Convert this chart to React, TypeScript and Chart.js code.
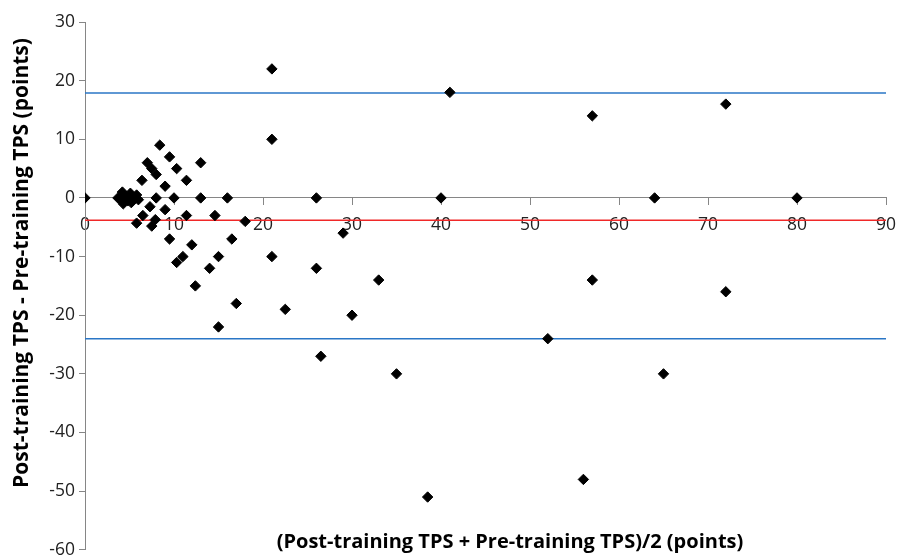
import { useEffect, useRef } from "react";
import { Chart, registerables } from "chart.js";

Chart.register(...registerables);

// Mean of the two measurements (x) and their difference (y)
const meanScores = [
  0, 3.7, 4.0, 4.2, 4.3, 4.6, 4.8, 5.0, 5.1, 5.2, 5.5, 5.8, 6.0,
  8.0, 10.0, 13.0, 16.0, 26.0, 40.0, 64.0, 80.0,
  8.4, 9.5, 10.3, 11.4, 13.0, 9.0, 7.0, 7.5, 8.0, 6.4,
  5.8, 6.5, 7.3, 7.5, 7.9, 9.0, 11.4, 14.6, 18.0, 9.5, 12.0, 16.5, 15.0, 14.0, 10.3, 11.0, 12.4, 17.0, 15.0,
  21.0, 21.0, 41.0, 57.0, 72.0, 29.0, 21.0, 26.0, 33.0, 22.5, 30.0, 26.5, 35.0, 38.5, 56.0, 57.0, 72.0, 52.0, 65.0,
];
const differences = [
  0, 0, -0.3, 1, -1, 0.3, -0.5, 0, 0.8, -0.8, 0, 0.5, -0.3,
  0, 0, 0, 0, 0, 0, 0, 0,
  9, 7, 5, 3, 6, 2, 6, 5, 4, 3,
  -4.3, -3, -1.5, -4.8, -3.7, -2, -3, -3, -4, -7, -8, -7, -10, -12, -11, -10, -15, -18, -22,
  22, 10, 18, 14, 16, -6, -10, -12, -14, -19, -20, -27, -30, -51, -48, -14, -16, -24, -30,
];

const upperLimit = 17.9;
const meanDifference = -3.8;
const lowerLimit = -24;

const xMin = 0;
const xMax = 90;
const yMin = -60;
const yMax = 30;
const tickStep = 10;

const xTitle = "(Post-training TPS + Pre-training TPS)/2 (points)";
const yTitle = "Post-training TPS - Pre-training TPS (points)";

const FONT = '"Open Sans", "DejaVu Sans", sans-serif';
const AXIS_GRAY = "#868686";

const titlesPlugin = {
  id: "axisTitles",
  afterDraw(chart: any) {
    const ctx = chart.ctx as CanvasRenderingContext2D;
    ctx.save();
    ctx.fillStyle = "#000";
    ctx.font = `bold 20px ${FONT}`;
    ctx.textAlign = "center";
    ctx.textBaseline = "middle";
    ctx.fillText(xTitle, 510, 542);
    ctx.translate(22, 263);
    ctx.rotate(-Math.PI / 2);
    ctx.font = `bold 21px ${FONT}`;
    ctx.fillText(yTitle, 0, 0);
    ctx.restore();
  },
};

export default function App() {
  const canvasRef = useRef<HTMLCanvasElement | null>(null);

  useEffect(() => {
    const canvas = canvasRef.current;
    if (!canvas) return;
    const points = meanScores.map((x, i) => ({ x, y: differences[i] }));
    const hLine = (v: number) => [
      { x: xMin, y: v },
      { x: xMax, y: v },
    ];
    const chart = new Chart(canvas, {
      type: "scatter",
      data: {
        datasets: [
          {
            label: "Differences",
            data: points,
            pointStyle: "rectRot",
            pointRadius: 5.2,
            pointBorderWidth: 1,
            backgroundColor: "#000",
            borderColor: "#000",
            order: 0,
          },
          {
            label: "Upper limit",
            type: "line",
            data: hLine(upperLimit),
            borderColor: "#2a76c6",
            borderWidth: 1.5,
            pointRadius: 0,
            order: 1,
          },
          {
            label: "Mean",
            type: "line",
            data: hLine(meanDifference),
            borderColor: "#f02828",
            borderWidth: 1.6,
            pointRadius: 0,
            order: 1,
          },
          {
            label: "Lower limit",
            type: "line",
            data: hLine(lowerLimit),
            borderColor: "#2a76c6",
            borderWidth: 1.5,
            pointRadius: 0,
            order: 1,
          },
        ],
      } as any,
      options: {
        animation: false,
        responsive: true,
        maintainAspectRatio: false,
        layout: { padding: { left: 0, right: 13, top: 22, bottom: 6 } },
        plugins: {
          legend: { display: false },
          tooltip: { enabled: false },
        },
        scales: {
          x: {
            type: "linear",
            position: { y: 0 } as any,
            min: xMin,
            max: xMax,
            ticks: {
              stepSize: tickStep,
              color: "#222",
              font: { family: FONT, size: 17.5 },
              padding: 10,
              maxRotation: 0,
            },
            grid: {
              display: true,
              drawOnChartArea: false,
              drawTicks: true,
              tickLength: 7,
              color: AXIS_GRAY,
            },
            border: { display: true, color: AXIS_GRAY, width: 1 },
            afterFit: (scale: any) => {
              scale.paddingLeft = 0;
              scale.paddingRight = 0;
            },
          },
          y: {
            type: "linear",
            position: "left",
            min: yMin,
            max: yMax,
            ticks: {
              stepSize: tickStep,
              color: "#222",
              font: { family: FONT, size: 17.5 },
              padding: 4,
            },
            grid: {
              display: true,
              drawOnChartArea: false,
              drawTicks: true,
              tickLength: 6,
              color: AXIS_GRAY,
            },
            border: { display: true, color: AXIS_GRAY, width: 1 },
            afterFit: (scale: any) => {
              scale.width = 85;
              scale.paddingTop = 0;
              scale.paddingBottom = 0;
            },
          },
        },
      } as any,
      plugins: [titlesPlugin],
    });
    return () => chart.destroy();
  }, []);

  return (
    <div style={{ position: "fixed", left: 0, top: 0, width: 899, height: 556, background: "#fff" }}>
      <canvas ref={canvasRef} />
    </div>
  );
}
